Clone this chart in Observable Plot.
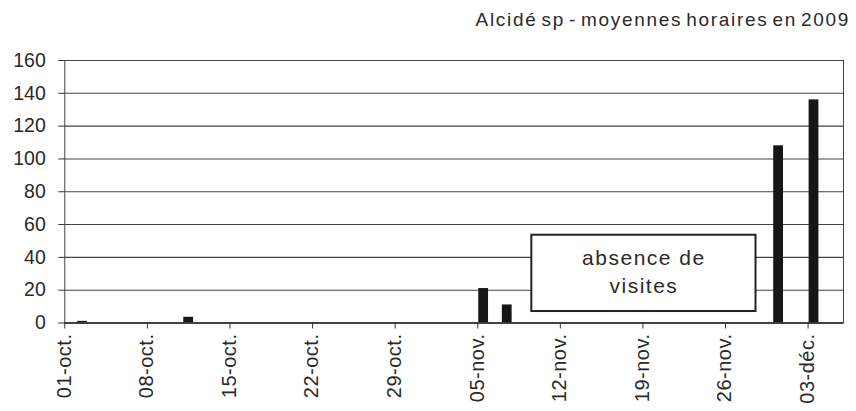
<!DOCTYPE html>
<html>
<head>
<meta charset="utf-8">
<script src="https://cdn.jsdelivr.net/npm/d3@7"></script>
<script src="https://cdn.jsdelivr.net/npm/@observablehq/plot@0.6"></script>
<style>
  body { margin: 0; background: #fff; font-family: "Liberation Sans", Arial, sans-serif; }
  #title { height: 40px; line-height: 40px; text-align: right; padding-right: 6px; font-size: 19px; color: #2a2a2a; letter-spacing: 1.7px; word-spacing: -3px; }
  #chart svg { display: block; }
</style>
</head>
<body>
<div id="title">Alcidé sp - moyennes horaires en 2009</div>
<div id="chart"></div>
<script>
// Data (daily hourly means)
const dates = ["2009-10-02", "2009-10-11", "2009-11-05", "2009-11-07", "2009-11-30", "2009-12-03"];
const values = [1, 3.5, 21, 11, 108, 136];

// Axis
const xDomain = ["2009-10-01", "2009-12-06"];
const tickDates = ["2009-10-01", "2009-10-08", "2009-10-15", "2009-10-22", "2009-10-29", "2009-11-05", "2009-11-12", "2009-11-19", "2009-11-26", "2009-12-03"];
const tickLabels = ["01-oct.", "08-oct.", "15-oct.", "22-oct.", "29-oct.", "05-nov.", "12-nov.", "19-nov.", "26-nov.", "03-déc."];
const yTicks = [0, 20, 40, 60, 80, 100, 120, 140, 160];

// Annotation box
const noteLines = ["absence de", "visites"];
const noteRange = {start: "2009-11-09T14:00Z", end: "2009-11-28T14:00Z", low: 7, high: 53.5};

const parse = s => new Date(s.length === 10 ? s + "T00:00Z" : s);
const data = dates.map((d, i) => ({date: parse(d), value: values[i]}));
const ticks = tickDates.map(parse);
const note = [{x1: parse(noteRange.start), x2: parse(noteRange.end), y1: noteRange.low, y2: noteRange.high}];

const chart = Plot.plot({
  width: 856,
  height: 371,
  marginTop: 20,
  marginBottom: 88.5,
  marginLeft: 64.3,
  marginRight: 13,
  style: {fontFamily: "Liberation Sans, Arial, sans-serif", color: "#2a2a2a", background: "#fff"},
  x: {type: "utc", domain: xDomain.map(parse)},
  y: {domain: [0, 160]},
  marks: [
    Plot.ruleY(yTicks, {stroke: "#444", strokeWidth: 1.1}),
    Plot.rect(note, {x1: "x1", x2: "x2", y1: "y1", y2: "y2", fill: "#fff", stroke: "#222", strokeWidth: 2}),
    Plot.text(note, {x: d => new Date((+d.x1 + +d.x2) / 2), y: d => (d.y1 + d.y2) / 2, dy: -3, text: () => noteLines.join("\n"), fontSize: 21, fill: "#2a2a2a", lineHeight: 1.3}),
    Plot.rectY(data, {x1: "date", x2: d => d3.utcDay.offset(d.date, 1), y: "value", fill: "#161616", insetLeft: 1, insetRight: 1}),
    Plot.frame({stroke: "#444"}),
    Plot.ruleY([0], {stroke: "#333", strokeWidth: 1.3}),
    Plot.axisY({ticks: yTicks, tickSize: 6, tickPadding: 13, fontSize: 19.5, stroke: "#333", label: null}),
    Plot.axisX({ticks: ticks, tickSize: 6, tickFormat: () => "", stroke: "#333", label: null}),
    Plot.text(ticks, {x: d => d3.utcHour.offset(d, 12), frameAnchor: "bottom", dy: 10.5, rotate: -90, textAnchor: "end", text: (d, i) => tickLabels[i], fontSize: 20, fill: "#2a2a2a"})
  ]
});
d3.select(chart).selectAll("text, tspan")
  .filter(function() { return noteLines.includes(this.textContent) || noteLines.join("") === this.textContent; })
  .style("letter-spacing", "1.5px");
d3.select(chart).selectAll("text")
  .filter(function() { return tickLabels.includes(this.textContent); })
  .style("letter-spacing", "0.5px");
document.getElementById("chart").appendChild(chart);
</script>
</body>
</html>
